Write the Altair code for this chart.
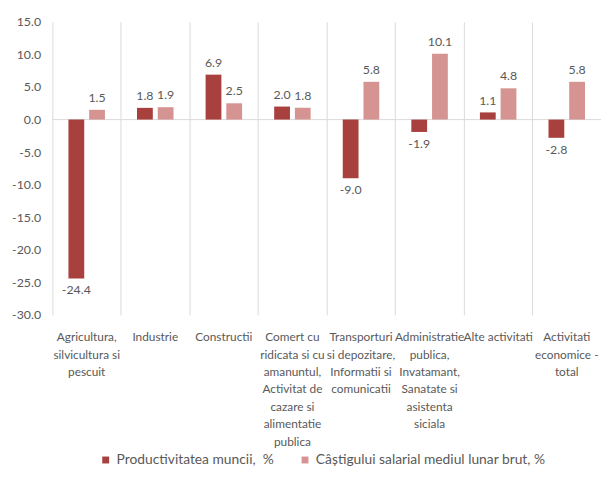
import altair as alt
import pandas as pd

categories = [
    ["Agricultura,", "silvicultura si", "pescuit"],
    ["Industrie"],
    ["Constructii"],
    ["Comert cu", "ridicata si cu", "amanuntul,", "Activitat de", "cazare si", "alimentatie", "publica"],
    ["Transporturi", "si depozitare,", "Informatii si", "comunicatii"],
    ["Administratie", "publica,", "Invatamant,", "Sanatate si", "asistenta", "siciala"],
    ["Alte activitati"],
    ["Activitati", "economice -", "total"],
]
series_names = ["Productivitatea muncii,\u00a0 %", "Câștigului salarial mediul lunar brut, %"]
productivitate = [-24.4, 1.8, 6.9, 2.0, -9.0, -1.9, 1.1, -2.8]
castig = [1.5, 1.9, 2.5, 1.8, 5.8, 10.1, 4.8, 5.8]
y_ticks = [-30, -25, -20, -15, -10, -5, 0, 5, 10, 15]
colors = ["#A8403E", "#D59492"]

cat_keys = ["|".join(c) for c in categories]
rows = []
for i, key in enumerate(cat_keys):
    for s, vals in zip(series_names, [productivitate, castig]):
        rows.append({"cat": key, "series": s, "value": vals[i], "label": f"{vals[i]:.1f}"})
df = pd.DataFrame(rows)

FONT = "Lato"
GRAY = "#595959"
GRID = "#d9d9d9"

y_scale = alt.Scale(domain=[-30, 15], nice=False, zero=False)
y_axis = alt.Axis(
    title=None,
    values=y_ticks,
    labelExpr="replace(format(datum.value, '.1f'), '\u2212', '-')",
    grid=False,
    domain=False,
    ticks=False,
    labelPadding=12,
    labelFont=FONT,
    labelFontSize=12.5,
    labelColor=GRAY,
    labelOverlap=False,
    labelFlush=False,
    labelBound=False,
)

base = alt.Chart(df).encode(
    x=alt.X(
        "cat:N",
        sort=cat_keys,
        scale=alt.Scale(paddingInner=0, paddingOuter=0),
        axis=alt.Axis(
            title=None,
            labelExpr="split(datum.label, '|')",
            labelAngle=0,
            grid=True,
            gridColor=GRID,
            bandPosition=0,
            domain=False,
            ticks=False,
            labelPadding=17,
            labelFont=FONT,
            labelFontSize=12,
            labelColor=GRAY,
            labelLineHeight=17.7,
            labelBaseline="top",
            labelLimit=0,
            labelOverlap=False,
        ),
    ),
    xOffset=alt.XOffset(
        "series:N",
        sort=series_names,
        scale=alt.Scale(paddingInner=0.238, paddingOuter=0.774),
    ),
    y=alt.Y("value:Q", scale=y_scale, axis=y_axis),
)

bars = base.mark_bar().encode(
    color=alt.Color(
        "series:N",
        sort=series_names,
        scale=alt.Scale(domain=series_names, range=colors),
        legend=alt.Legend(
            title=None,
            orient="none",
            direction="horizontal",
            legendX=47,
            legendY=437,
            symbolType="square",
            symbolSize=49,
            symbolStrokeWidth=0,
            labelFont=FONT,
            labelFontSize=14,
            labelColor=GRAY,
            columnPadding=24,
            labelLimit=0,
        ),
    )
)

rule = alt.Chart(pd.DataFrame({"value": [0]})).mark_rule(color=GRID, strokeWidth=1).encode(
    y=alt.Y("value:Q", scale=y_scale, axis=y_axis)
)

pos = base.mark_text(baseline="bottom", dy=-5, font=FONT, fontSize=12.5, color=GRAY).encode(
    text="label:N"
).transform_filter("datum.value >= 0")
neg = base.mark_text(baseline="top", dy=6, font=FONT, fontSize=12.5, color=GRAY).encode(
    text="label:N"
).transform_filter("datum.value < 0")

chart = alt.layer(rule, bars, pos, neg).properties(
    width=556,
    height=297,
    autosize=alt.AutoSizeParams(type="none"),
    padding={"left": 45, "top": 11, "right": 2, "bottom": 150},
).configure_view(stroke=None)

chart.save("out.html", embed_options={"renderer": "svg", "actions": False})
